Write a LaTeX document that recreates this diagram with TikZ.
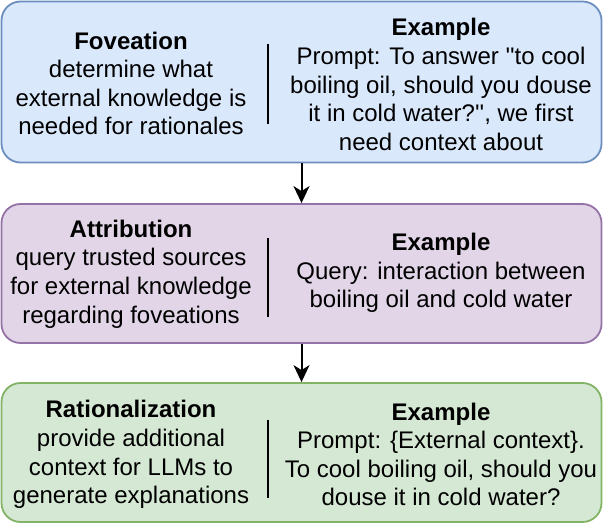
\documentclass[tikz,border=0pt]{standalone}
\usepackage{fontspec}
\newfontfamily\lsans{Liberation Sans}
\usetikzlibrary{arrows.meta}
\definecolor{bfill}{HTML}{DAE8FC}
\definecolor{bline}{HTML}{6C8EBF}
\definecolor{pfill}{HTML}{E1D5E7}
\definecolor{pline}{HTML}{9673A6}
\definecolor{gfill}{HTML}{D5E8D4}
\definecolor{gline}{HTML}{82B366}
\begin{document}
\begin{tikzpicture}[x=1bp,y=-1bp,
  box/.style={draw, rounded corners=19bp, line width=1.8bp, minimum width=600bp, inner sep=0pt},
  txt/.style={font={\lsans\fontsize{24bp}{28.6bp}\selectfont}, align=center, inner sep=0pt},
  divider/.style={line width=2bp, black},
  flow/.style={line width=2bp, -{Stealth[length=17bp,width=16bp,inset=5bp]}}]
\useasboundingbox (0,0) rectangle (604,524);
% boxes
\node[box, fill=bfill, draw=bline, minimum height=161bp] (b1) at (301.5,82) {};
\node[box, fill=pfill, draw=pline, minimum height=139bp] (b2) at (301.5,273.5) {};
\node[box, fill=gfill, draw=gline, minimum height=139bp] (b3) at (301.5,452.5) {};
% arrows
\draw[flow] (b1.south) -- (b2.north);
\draw[flow] (b2.south) -- (b3.north);
% dividers
\draw[divider] (268,44) -- (268,124);
\draw[divider] (268,238) -- (268,317);
\draw[divider] (268,420) -- (268,498);
% texts
\node[txt] (l1) at (131,83.5) {\textbf{Foveation}\\determine what\\external knowledge is\\needed for rationales};
\node[txt] (r1) at (441,84.5) {\textbf{Example}\\Prompt: To answer ''to cool\\boiling oil, should you douse\\it in cold water?'', we first\\need context about};
\node[txt] (l2) at (131,274) {\textbf{Attribution}\\query trusted sources\\for external knowledge\\regarding foveations};
\node[txt] (r2) at (441,273) {\textbf{Example}\\Query: interaction between\\boiling oil and cold water};
\node[txt] (l3) at (131,454.5) {\textbf{Rationalization}\\provide additional\\context for LLMs to\\generate explanations};
\node[txt] (r3) at (441,454.5) {\textbf{Example}\\Prompt: \{External context\}.\\To cool boiling oil, should you\\douse it in cold water?};
\end{tikzpicture}
\end{document}
